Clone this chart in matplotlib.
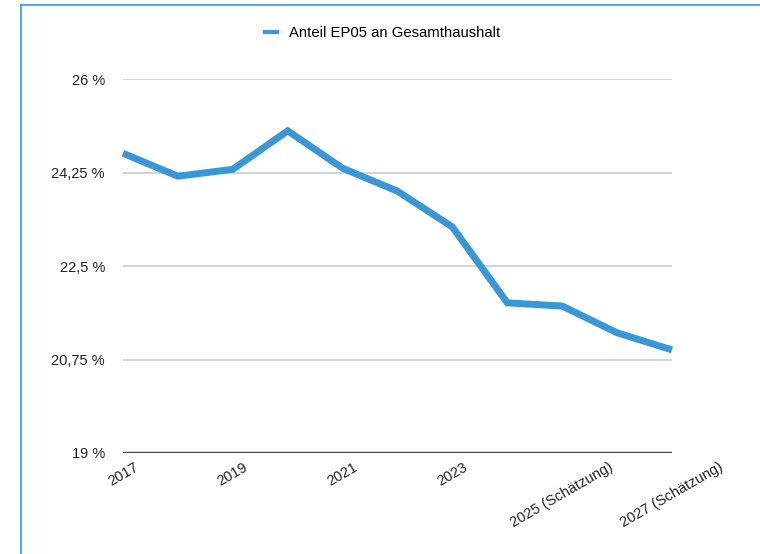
import matplotlib
matplotlib.use("Agg")
import matplotlib.pyplot as plt
from matplotlib.lines import Line2D

plt.rcParams['font.family'] = ['Liberation Sans', 'DejaVu Sans']

years = ["2017", "2018", "2019", "2020", "2021", "2022", "2023", "2024",
         "2025 (Schätzung)", "2026 (Schätzung)", "2027 (Schätzung)"]
shown_labels = ["2017", "", "2019", "", "2021", "", "2023", "",
                "2025 (Schätzung)", "", "2027 (Schätzung)"]
anteil = [24.61, 24.18, 24.31, 25.03, 24.33, 23.90, 23.23, 21.81, 21.75, 21.25, 20.93]
yticks = [19, 20.75, 22.5, 24.25, 26]
ytick_labels = ["19 %", "20,75 %", "22,5 %", "24,25 %", "26 %"]
series_name = "Anteil EP05 an Gesamthaushalt"

W, H = 760, 554
fig = plt.figure(figsize=(W / 100, H / 100), dpi=100)
ax = fig.add_axes([123 / W, 1 - 453 / H, (672 - 123) / W, (453 - 79) / H])

line_color = "#3A97D5"
x = list(range(len(years)))
ax.plot(x, anteil, color=line_color, lw=5.0, solid_joinstyle='miter', solid_capstyle='butt',
        zorder=3, clip_on=False)

ax.set_xlim(0, len(years) - 1)
ax.set_ylim(19, 26)
ax.set_yticks(yticks)
ax.set_yticklabels(ytick_labels, fontsize=10.5, color="#222222")
ax.set_xticks(x)
ax.set_xticklabels(shown_labels, rotation=30, ha='center', fontsize=10.5, color="#222222")
ax.tick_params(axis='both', length=0)
ax.tick_params(axis='y', pad=13)
ax.tick_params(axis='x', pad=5)

for y in yticks[1:]:
    ax.axhline(y, color="#C8C8C8", lw=1.1, zorder=1)
ax.axhline(19, color="#444444", lw=2.4, zorder=2)

for s in ax.spines.values():
    s.set_visible(False)

handle = Line2D([0], [0], color=line_color, lw=3)
fig.legend([handle], [series_name], loc='center', bbox_to_anchor=(383 / W, 1 - 33 / H),
           frameon=False, handlelength=0.8, handletextpad=0.8, fontsize=10.7)

# frame border (partially cropped)
border = "#2F97E0"
fig.add_artist(Line2D([20.5 / W, 20.5 / W], [0, 1 - 4.5 / H], color=border, lw=1.2,
                      transform=fig.transFigure))
fig.add_artist(Line2D([20.5 / W, 1], [1 - 4.5 / H, 1 - 4.5 / H], color=border, lw=1.2,
                      transform=fig.transFigure))

fig.savefig("out.png", dpi=100)
